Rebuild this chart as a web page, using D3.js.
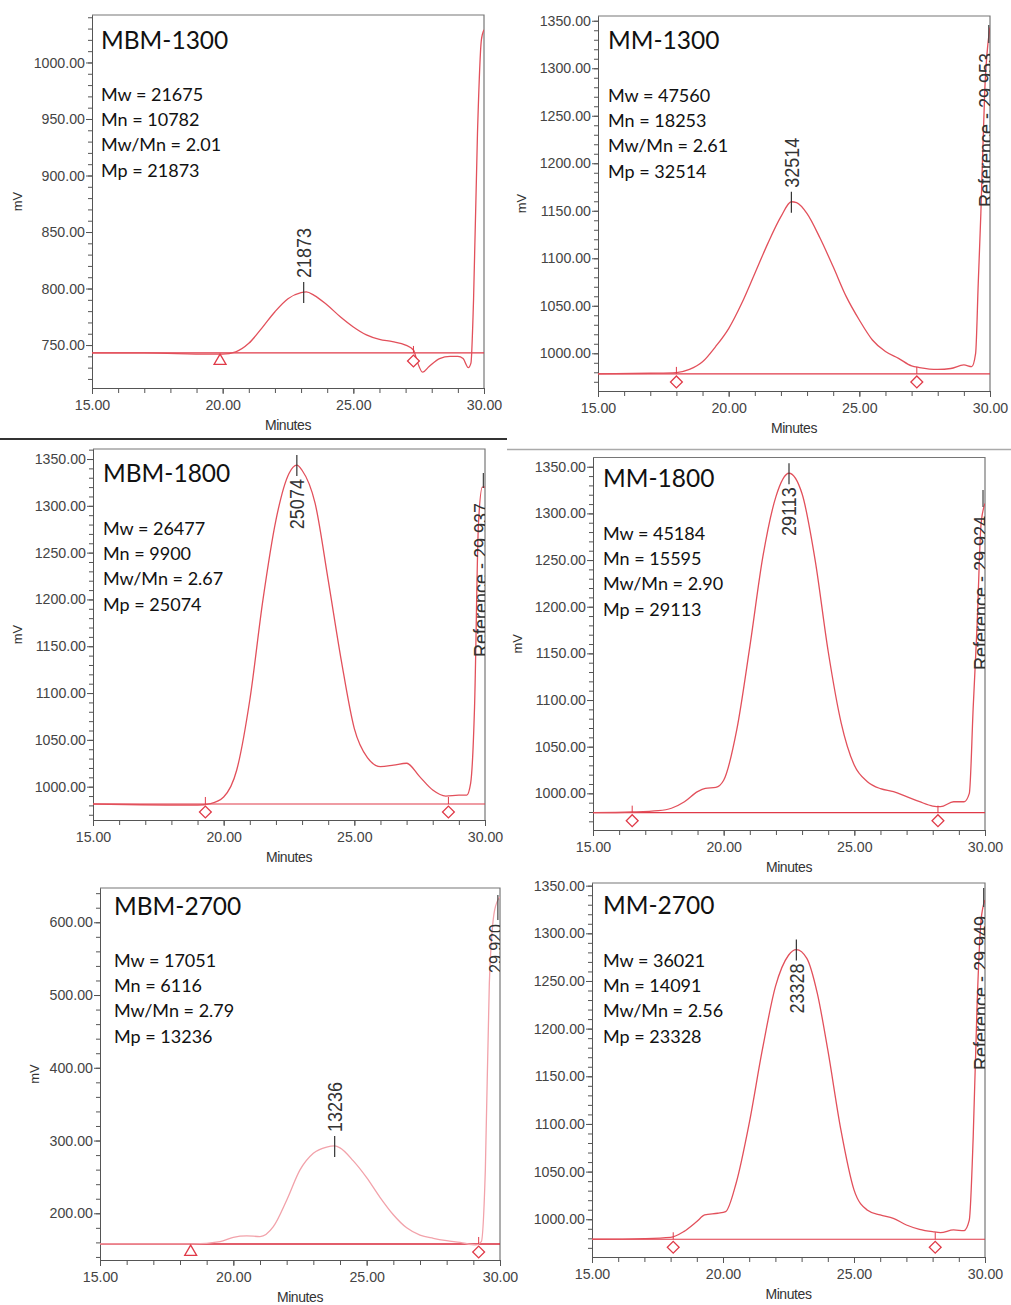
<!DOCTYPE html>
<html>
<head>
<meta charset="utf-8">
<script src="https://cdn.jsdelivr.net/npm/d3@7"></script>
<style>
body { margin: 0; background: #fff; }
svg { display: block; }
.axis path, .axis line { stroke: #555; }
.axis text { fill: #444; font-size: 14.2px; font-family: "Liberation Sans", Arial, sans-serif; }
</style>
</head>
<body>
<div id="chart"></div>
<script>
// ---- sample info ----
var sampleNames = ["MBM-1300", "MM-1300", "MBM-1800", "MM-1800", "MBM-2700", "MM-2700"];
var mwValues = [21675, 47560, 26477, 45184, 17051, 36021];
var mnValues = [10782, 18253, 9900, 15595, 6116, 14091];
var pdiValues = ["2.01", "2.61", "2.67", "2.90", "2.79", "2.56"];
var mpValues = ["21873", "32514", "25074", "29113", "13236", "23328"];

// peak apex (minutes, mV) and where its label sits
var peakTimes = [23.1, 22.4, 22.8, 22.5, 23.8, 22.8];
var peakHeights = [797, 1159.5, 1343.5, 1343, 292.6, 1283];
var peakLabelSide = ["above", "above", "below", "below", "above", "below"];

// reference peak labels
var refTimes = [null, 29.953, 29.937, 29.924, 29.920, 29.949];
var refLabels = [null, "Reference - 29.953", "Reference - 29.937", "Reference - 29.924", "29.920", "Reference - 29.949"];

// integration baseline and its start / end marks
var baselineLevels = [743, 978.3, 981.5, 979.3, 157.8, 979];
var startMarkTimes = [19.9, 18.0, 19.3, 16.5, 18.4, 18.1];
var endMarkTimes = [27.3, 27.2, 28.6, 28.2, 29.2, 28.1];
var startMarkShapes = ["triangle", "diamond", "diamond", "diamond", "triangle", "diamond"];
var endMarkShapes = ["diamond", "diamond", "diamond", "diamond", "diamond", "diamond"];

// axis ticks
var xTickValues = [15, 20, 25, 30];
var yTickSets = [
    [750, 800, 850, 900, 950, 1000],
    [1000, 1050, 1100, 1150, 1200, 1250, 1300, 1350],
    [1000, 1050, 1100, 1150, 1200, 1250, 1300, 1350],
    [1000, 1050, 1100, 1150, 1200, 1250, 1300, 1350],
    [200, 300, 400, 500, 600],
    [1000, 1050, 1100, 1150, 1200, 1250, 1300, 1350]
];

// ---- traces (minutes, mV) ----
var mbm1300Time = [15, 17, 19.5, 20, 20.5, 21, 21.5, 22, 22.5, 23, 23.2, 23.5, 24, 24.5, 25, 25.5, 26, 26.5, 27, 27.3, 27.45, 27.65, 27.9, 28.3, 28.7, 29, 29.2, 29.4, 29.5, 29.6, 29.75, 29.9, 30];
var mbm1300Signal = [743, 743, 742, 742, 744, 751.5, 765, 779.5, 791, 796.3, 797, 794, 785.4, 775, 766, 759, 755, 753, 750, 745.6, 735, 726, 731, 738, 740, 740, 738, 730, 734, 790, 937, 1020, 1029];

var mm1300Time = [15, 17, 18, 18.5, 19, 19.5, 20, 20.5, 21, 21.5, 22, 22.4, 22.6, 23, 23.5, 24, 24.5, 25, 25.5, 26, 26.5, 27, 27.3, 28, 28.5, 29, 29.3, 29.45, 29.55, 29.65, 29.8, 30];
var mm1300Signal = [978.3, 979, 979.7, 983, 991, 1007, 1026, 1052.6, 1084, 1115.7, 1143.8, 1159.5, 1158.5, 1147, 1121, 1091, 1059.6, 1035, 1014, 1001.8, 994.7, 986.7, 985, 983, 984, 987.7, 986, 1000, 1073.6, 1147, 1277, 1343];

var mbm1800Time = [15, 19, 19.5, 20, 20.5, 21, 21.5, 22, 22.5, 22.8, 23, 23.5, 24, 24.5, 25, 25.5, 26, 26.5, 27, 27.5, 28, 28.5, 29, 29.3, 29.45, 29.6, 29.75, 29.9, 30];
var mbm1800Signal = [981.5, 980.4, 982, 989, 1017.8, 1092.6, 1199, 1284.8, 1334.6, 1343.5, 1338, 1302.6, 1220.7, 1135, 1062, 1031, 1021.4, 1023, 1025, 1010.7, 996.4, 990, 991, 991, 1003.6, 1085, 1281, 1320, 1320];

var mm1800Time = [15, 16.5, 17.5, 18, 18.5, 19, 19.3, 19.7, 20, 20.5, 21, 21.5, 22, 22.5, 23, 23.5, 24, 24.5, 25, 25.5, 26, 26.5, 27, 27.5, 28, 28.3, 28.8, 29.2, 29.4, 29.55, 29.7, 29.85, 30];
var mm1800Signal = [979.3, 980, 981.4, 984, 991, 1001.8, 1005.4, 1006.4, 1014, 1068, 1157, 1253.6, 1318, 1343, 1321, 1250, 1152, 1075, 1030, 1012.5, 1005, 1001.8, 996.4, 991, 986.4, 985.7, 991, 991, 1000, 1093, 1182, 1289, 1310.7];

var mbm2700Time = [15, 18.5, 19.5, 20, 20.5, 21, 21.5, 22, 22.5, 23, 23.5, 23.8, 24, 24.5, 25, 25.5, 26, 26.5, 27, 27.5, 28, 28.5, 29.1, 29.3, 29.45, 29.6, 29.8, 30];
var mbm2700Signal = [158, 158, 161, 167, 169, 168, 181.7, 218, 259.6, 282.5, 291, 292.6, 290, 272, 249, 222, 198, 180, 170, 165.6, 162.4, 160, 156.5, 161, 259.6, 516, 617, 635];

var mm2700Time = [15, 17, 18, 18.5, 19, 19.3, 19.8, 20.1, 20.5, 21, 21.5, 22, 22.5, 22.8, 23.2, 23.6, 24, 24.5, 25, 25.5, 26, 26.5, 27, 27.5, 28, 28.3, 28.8, 29.2, 29.4, 29.55, 29.7, 29.85, 30];
var mm2700Signal = [979, 979.7, 981, 987, 997.6, 1004.5, 1006.3, 1008, 1037.8, 1100.7, 1177.6, 1244, 1277, 1283, 1273.8, 1237, 1177.6, 1093.7, 1030.8, 1009.8, 1004.5, 1001, 994, 989.5, 987, 986, 988.8, 988, 999, 1086.7, 1226.6, 1314, 1335];

var traceTimes = [mbm1300Time, mm1300Time, mbm1800Time, mm1800Time, mbm2700Time, mm2700Time];
var traceSignals = [mbm1300Signal, mm1300Signal, mbm1800Signal, mm1800Signal, mbm2700Signal, mm2700Signal];

// ---- layout of the six panels (page pixels) ----
var layout = [
    {left: 92, right: 484, top: 15, bottom: 388, yDomain: [712, 1042], minor: 10, textX: 101, titleY: 49, statsY: 101, mvX: 17, refStart: 0, refTick: [0, 0], color: "#e2505b", refFont: 18},
    {left: 598, right: 990, top: 16, bottom: 391, yDomain: [960.3, 1355], minor: 10, textX: 608, titleY: 49, statsY: 102, mvX: 521, refStart: 207, refTick: [25, 43], color: "#e2505b", refFont: 18},
    {left: 93, right: 485, top: 449, bottom: 820, yDomain: [964.4, 1360.7], minor: 10, textX: 103, titleY: 482, statsY: 535, mvX: 17, refStart: 657, refTick: [473, 488], color: "#e2505b", refFont: 18},
    {left: 593, right: 985, top: 457.5, bottom: 830, yDomain: [960.7, 1359.9], minor: 10, textX: 603, titleY: 487, statsY: 540, mvX: 517, refStart: 670, refTick: [490, 507], color: "#e2505b", refFont: 18},
    {left: 100, right: 500, top: 888, bottom: 1260, yDomain: [135.8, 647.1], minor: 20, textX: 114, titleY: 915, statsY: 967, mvX: 34, refStart: 973, refTick: [895, 920], color: "#f2a2aa", refFont: 16},
    {left: 592, right: 985, top: 883, bottom: 1257, yDomain: [960.4, 1352.8], minor: 10, textX: 603, titleY: 914, statsY: 967, mvX: null, refStart: 1070, refTick: [888, 907], color: "#e2505b", refFont: 18}
];

var svg = d3.select("#chart")
    .append("svg")
    .attr("width", 1011)
    .attr("height", 1305);

// separators between the cropped panels
svg.append("line")
    .attr("x1", 0).attr("x2", 507).attr("y1", 439).attr("y2", 439)
    .attr("stroke", "#333").attr("stroke-width", 2);
svg.append("line")
    .attr("x1", 507).attr("x2", 1011).attr("y1", 449.5).attr("y2", 449.5)
    .attr("stroke", "#aaa").attr("stroke-width", 1.5);

var fmt = d3.format(".2f");

layout.forEach(function(L, i) {
    var x = d3.scaleLinear().domain([15, 30]).range([L.left, L.right]);
    var y = d3.scaleLinear().domain(L.yDomain).range([L.bottom, L.top]);
    var g = svg.append("g");

    g.append("clipPath")
        .attr("id", "clip" + i)
        .append("rect")
        .attr("x", L.left)
        .attr("y", L.top)
        .attr("width", L.right - L.left)
        .attr("height", L.bottom - L.top);

    // top and right frame
    g.append("path")
        .attr("d", "M" + L.left + "," + L.top + "H" + L.right + "V" + L.bottom)
        .attr("fill", "none")
        .attr("stroke", "#777")
        .attr("stroke-width", 1.2);

    // y axis: minor then major ticks
    var minorY = d3.range(Math.ceil(L.yDomain[0] / L.minor) * L.minor, L.yDomain[1], L.minor);
    g.append("g")
        .attr("class", "axis")
        .attr("transform", "translate(" + L.left + ",0)")
        .call(d3.axisLeft(y).tickValues(minorY).tickSize(4).tickSizeOuter(0).tickFormat(""));
    g.append("g")
        .attr("class", "axis")
        .attr("transform", "translate(" + L.left + ",0)")
        .call(d3.axisLeft(y).tickValues(yTickSets[i]).tickSize(6).tickSizeOuter(0).tickPadding(1).tickFormat(fmt));

    // x axis
    g.append("g")
        .attr("class", "axis")
        .attr("transform", "translate(0," + L.bottom + ")")
        .call(d3.axisBottom(x).tickValues(d3.range(15, 31, 1)).tickSize(5).tickSizeOuter(0).tickFormat(""));
    g.append("g")
        .attr("class", "axis")
        .attr("transform", "translate(0," + L.bottom + ")")
        .call(d3.axisBottom(x).tickValues(xTickValues).tickSize(6).tickSizeOuter(0).tickPadding(6).tickFormat(fmt));

    g.append("text")
        .attr("x", (L.left + L.right) / 2)
        .attr("y", L.bottom + 42)
        .attr("text-anchor", "middle")
        .attr("font-family", "Liberation Sans, Arial, sans-serif")
        .attr("font-size", 14)
        .attr("letter-spacing", -0.4)
        .attr("fill", "#333")
        .text("Minutes");

    if (L.mvX !== null) {
        g.append("text")
            .attr("transform", "translate(" + L.mvX + "," + (L.top + L.bottom) / 2 + ") rotate(-90)")
            .attr("text-anchor", "middle")
            .attr("dy", "0.35em")
            .attr("font-family", "Liberation Sans, Arial, sans-serif")
            .attr("font-size", 13)
            .attr("fill", "#333")
            .text("mV");
    }

    var plot = g.append("g").attr("clip-path", "url(#clip" + i + ")");

    // baseline
    plot.append("line")
        .attr("x1", x(15)).attr("x2", x(30))
        .attr("y1", y(baselineLevels[i])).attr("y2", y(baselineLevels[i]))
        .attr("stroke", i === 4 ? "#d8283a" : "#e03a48")
        .attr("stroke-width", i === 4 ? 1.5 : 1.2);

    // trace
    var pts = traceTimes[i].map(function(t, k) { return [t, traceSignals[i][k]]; });
    plot.append("path")
        .datum(pts)
        .attr("fill", "none")
        .attr("stroke", L.color)
        .attr("stroke-width", 1.3)
        .attr("d", d3.line()
            .x(function(d) { return x(d[0]); })
            .y(function(d) { return y(d[1]); })
            .curve(d3.curveMonotoneX));

    // baseline start / end marks
    var marks = [[startMarkTimes[i], startMarkShapes[i]], [endMarkTimes[i], endMarkShapes[i]]];
    marks.forEach(function(m, k) {
        var mx = x(m[0]);
        var by = y(baselineLevels[i]);
        if (k === 1 || m[1] === "diamond") {
            plot.append("line")
                .attr("x1", mx).attr("x2", mx)
                .attr("y1", by - 7).attr("y2", by)
                .attr("stroke", "#e03a48");
        }
        var sym = m[1] === "triangle"
            ? d3.symbol().type(d3.symbolTriangle).size(62)
            : d3.symbol().type(d3.symbolSquare).size(70);
        plot.append("path")
            .attr("d", sym())
            .attr("transform", "translate(" + mx + "," + (by + 8) + ")" + (m[1] === "diamond" ? " rotate(45)" : ""))
            .attr("fill", "#fff")
            .attr("stroke", "#e03a48")
            .attr("stroke-width", 1.3);
    });

    // peak tick and label
    var px = x(peakTimes[i]);
    var py = y(peakHeights[i]);
    g.append("line")
        .attr("x1", px).attr("x2", px)
        .attr("y1", py - 10).attr("y2", py + 11)
        .attr("stroke", "#333")
        .attr("stroke-width", 1.2);
    var above = peakLabelSide[i] === "above";
    g.append("text")
        .attr("transform", "translate(" + px + "," + (above ? py - 14 : py + 14) + ") rotate(-90) scale(1,1.12)")
        .attr("text-anchor", above ? "start" : "end")
        .attr("dy", "0.36em")
        .attr("font-family", "Liberation Sans, Arial, sans-serif")
        .attr("font-size", 18)
        .attr("fill", "#333")
        .text(mpValues[i]);

    // reference peak label, clipped by the frame
    if (refTimes[i] !== null) {
        var rx = x(refTimes[i]);
        g.append("line")
            .attr("x1", rx).attr("x2", rx)
            .attr("y1", L.refTick[0]).attr("y2", L.refTick[1])
            .attr("stroke", "#444")
            .attr("stroke-width", 1.2);
        plot.append("text")
            .attr("transform", "translate(" + (rx + 4.5) + "," + L.refStart + ") rotate(-90) scale(1,1.12)")
            .attr("text-anchor", "start")
            .attr("font-family", "Liberation Sans, Arial, sans-serif")
            .attr("font-size", L.refFont)
            .attr("fill", "#333")
            .text(refLabels[i]);
    }

    // sample annotations
    g.append("text")
        .attr("x", L.textX)
        .attr("y", L.titleY)
        .attr("font-family", "Lato, 'Open Sans', sans-serif")
        .attr("font-size", 24.5)
        .attr("fill", "#111")
        .text(sampleNames[i]);
    var stats = ["Mw = " + mwValues[i], "Mn = " + mnValues[i], "Mw/Mn = " + pdiValues[i], "Mp = " + mpValues[i]];
    g.selectAll(null)
        .data(stats)
        .enter()
        .append("text")
        .attr("x", L.textX)
        .attr("y", function(d, k) { return L.statsY + k * 25.2; })
        .attr("font-family", "Lato, 'Open Sans', sans-serif")
        .attr("font-size", 18)
        .attr("fill", "#111")
        .text(function(d) { return d; });
});
</script>
</body>
</html>
